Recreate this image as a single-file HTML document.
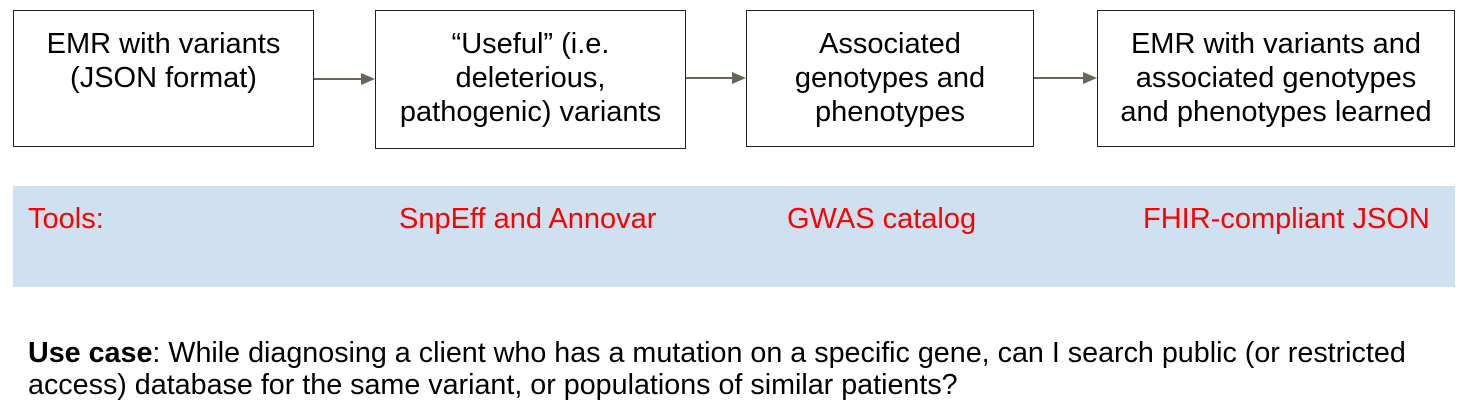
<!DOCTYPE html>
<html><head><style>
body{margin:0;width:1464px;height:404px;background:#fff;position:relative;overflow:hidden;font-family:"Liberation Sans",Arial,sans-serif}
.b{position:absolute;border:1.5px solid #222;box-sizing:border-box;text-align:center;font-size:29px;line-height:34px;color:#000;padding-top:16px;white-space:nowrap}
.a{position:absolute;height:2px;background:#6b6555}
.h{position:absolute;width:0;height:0;border-top:6px solid transparent;border-bottom:6px solid transparent;border-left:14px solid #6b6555}
.r{position:absolute;color:#f00;font-size:29px;top:203px}
.u{position:absolute;left:28px;top:337px;font-size:28.7px;line-height:32px;color:#000;white-space:nowrap}
</style></head><body>
<div class="b" style="left:13px;top:10px;width:301px;height:137px">EMR with variants<br>(JSON format)</div>
<div class="b" style="left:375px;top:10px;width:311px;height:139px">“Useful” (i.e.<br>deleterious,<br>pathogenic) variants</div>
<div class="b" style="left:746px;top:10px;width:288px;height:137px">Associated<br>genotypes and<br>phenotypes</div>
<div class="b" style="left:1097px;top:10px;width:358px;height:137px">EMR with variants and<br>associated genotypes<br>and phenotypes learned</div>
<div class="a" style="left:314px;top:78px;width:48px"></div><div class="h" style="left:361px;top:73px"></div>
<div class="a" style="left:686px;top:77px;width:47px"></div><div class="h" style="left:732px;top:72px"></div>
<div class="a" style="left:1034px;top:77px;width:50px"></div><div class="h" style="left:1083px;top:72px"></div>
<div style="position:absolute;left:13px;top:186px;width:1442px;height:101px;background:#cfe0f1"></div>
<div class="r" style="left:28px">Tools:</div>
<div class="r" style="left:399px">SnpEff and Annovar</div>
<div class="r" style="left:787px">GWAS catalog</div>
<div class="r" style="left:1143px">FHIR-compliant JSON</div>
<div class="u"><b>Use case</b>: While diagnosing a client who has a mutation on a specific gene, can I search public (or restricted<br>access) database for the same variant, or populations of similar patients?</div>
</body></html>
